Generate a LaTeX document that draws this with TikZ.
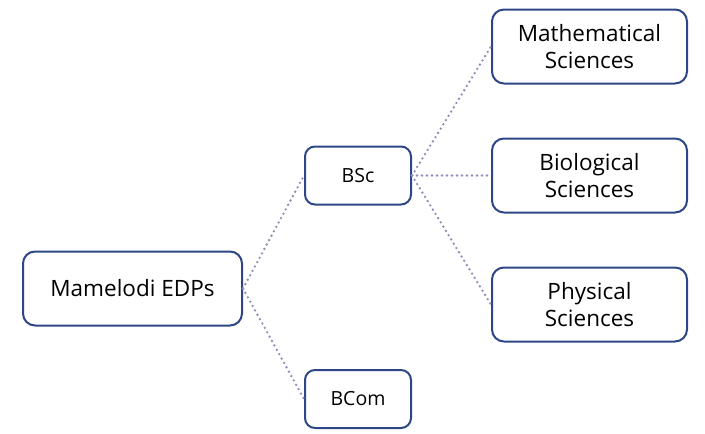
\documentclass[tikz,border=0pt]{standalone}
\usepackage{fontspec}
\setmainfont{Open Sans}
\usetikzlibrary{positioning}
\definecolor{edpblue}{RGB}{44,70,134}
\definecolor{edplink}{RGB}{140,140,190}
\tikzset{
  block/.style={
    rectangle, rounded corners=12pt, draw=edpblue, line width=2pt,
    fill=white, minimum width=195pt, minimum height=74pt,
    align=center, font=\fontsize{22.5}{27}\selectfont
  },
  blockS/.style={
    block, rounded corners=10pt, minimum width=106pt, minimum height=58pt,
    font=\fontsize{19.5}{22}\selectfont
  },
  link/.style={
    draw=edplink, line width=2.6pt, line cap=round,
    dash pattern=on 0pt off 5pt
  }
}

\begin{document}
\begin{tikzpicture}[x=1pt, y=-1pt]
  \useasboundingbox (0,0) rectangle (705,434);

  \node[block, minimum width=219pt] (edp) at (132.5,288.5) {Mamelodi EDPs};

  \node[blockS, above right=113pt and 61pt of edp.east, anchor=west]
    (bsc) {BSc};
  \node[blockS, below right=110.5pt and 61pt of edp.east, anchor=west]
    (bcom) {BCom};

  \node[block, above right=129pt and 79pt of bsc.east, anchor=west]
    (math) {Mathematical\\Sciences};
  \node[block, right=79pt of bsc.east, anchor=west]
    (bio) {Biological\\Sciences};
  \node[block, below right=129pt and 79pt of bsc.east, anchor=west]
    (phys) {Physical\\Sciences};

  \draw[link] (edp.east) -- (bsc.west);
  \draw[link] (edp.east) -- (bcom.west);
  \draw[link] (bsc.east) -- (math.west);
  \draw[link] (bsc.east) -- (bio.west);
  \draw[link] (bsc.east) -- (phys.west);
\end{tikzpicture}
\end{document}
